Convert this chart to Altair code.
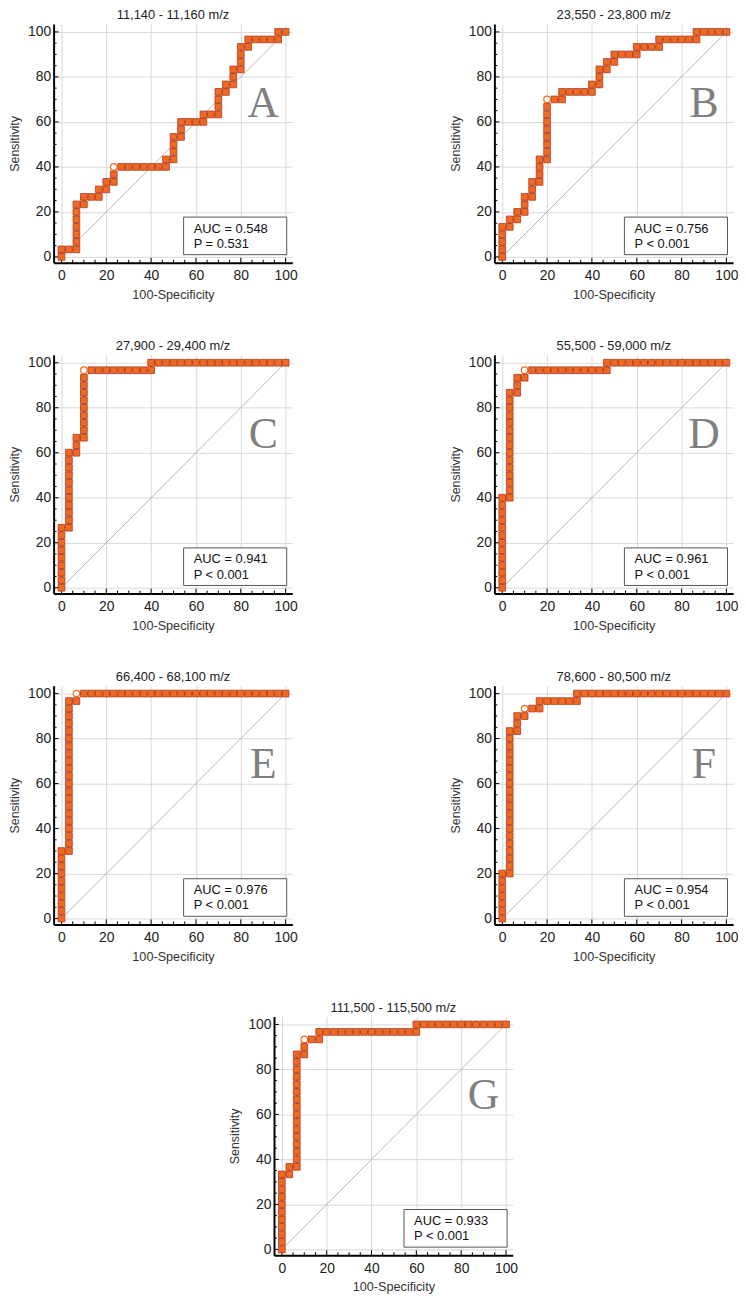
import altair as alt
import pandas as pd

# ---------------- data ----------------
N_NEG = 30   # negatives -> step of 100-Specificity
N_POS = 30   # positives -> step of Sensitivity

TITLES = ["11,140 - 11,160 m/z", "23,550 - 23,800 m/z", "27,900 - 29,400 m/z",
          "55,500 - 59,000 m/z", "66,400 - 68,100 m/z", "78,600 - 80,500 m/z",
          "111,500 - 115,500 m/z"]
LETTERS = ["A", "B", "C", "D", "E", "F", "G"]
AUC_TXT = ["AUC = 0.548", "AUC = 0.756", "AUC = 0.941", "AUC = 0.961",
           "AUC = 0.976", "AUC = 0.954", "AUC = 0.933"]
P_TXT = ["P = 0.531", "P < 0.001", "P < 0.001", "P < 0.001",
         "P < 0.001", "P < 0.001", "P < 0.001"]
OPT_IDX = [19, 27, 32, 32, 32, 31, 31]   # optimal criterion point (open marker)

# false-positive counts (x) and true-positive counts (y) of each ROC point
A_FP = [0, 0, 1, 2, 2, 2, 2, 2, 2, 2, 3, 3, 4, 5, 5, 6, 6, 7, 7, 7, 8, 9, 10, 11, 12, 13, 14, 14, 15, 15,
        15, 15, 16, 16, 16, 17, 18, 19, 19, 20, 21, 21, 21, 21, 22, 22, 23, 23, 23, 24, 24, 24, 24, 25, 25,
        26, 27, 28, 29, 29, 30]
A_TP = [0, 1, 1, 1, 2, 3, 4, 5, 6, 7, 7, 8, 8, 8, 9, 9, 10, 10, 11, 12, 12, 12, 12, 12, 12, 12, 12, 13, 13, 14,
        15, 16, 16, 17, 18, 18, 18, 18, 19, 19, 19, 20, 21, 22, 22, 23, 23, 24, 25, 25, 26, 27, 28, 28, 29,
        29, 29, 29, 29, 30, 30]

B_FP = [0, 0, 0, 0, 0, 1, 1, 2, 2, 3, 3, 3, 4, 4, 4, 5, 5, 5, 5, 6, 6, 6, 6, 6, 6, 6, 6, 6, 7, 8,
        8, 9, 10, 11, 12, 12, 13, 13, 13, 14, 14, 15, 15, 16, 17, 18, 18, 19, 20, 21, 21, 22, 23, 24, 25,
        26, 26, 27, 28, 29, 30]
B_TP = [0, 1, 2, 3, 4, 4, 5, 5, 6, 6, 7, 8, 8, 9, 10, 10, 11, 12, 13, 13, 14, 15, 16, 17, 18, 19, 20, 21, 21, 21,
        22, 22, 22, 22, 22, 23, 23, 24, 25, 25, 26, 26, 27, 27, 27, 27, 28, 28, 28, 28, 29, 29, 29, 29, 29,
        29, 30, 30, 30, 30, 30]

C_FP = [0, 0, 0, 0, 0, 0, 0, 0, 0,
        1, 1, 1, 1, 1, 1, 1, 1, 1, 1, 1,
        2, 2, 2,
        3, 3, 3, 3, 3, 3, 3, 3, 3, 3,
        4, 5, 6, 7, 8, 9, 10, 11, 12,
        12,
        13, 14, 15, 16, 17, 18, 19, 20, 21, 22, 23, 24, 25, 26, 27, 28, 29, 30]
C_TP = [0, 1, 2, 3, 4, 5, 6, 7, 8,
        8, 9, 10, 11, 12, 13, 14, 15, 16, 17, 18,
        18, 19, 20,
        20, 21, 22, 23, 24, 25, 26, 27, 28, 29,
        29, 29, 29, 29, 29, 29, 29, 29, 29,
        30,
        30, 30, 30, 30, 30, 30, 30, 30, 30, 30, 30, 30, 30, 30, 30, 30, 30, 30]

D_FP = [0, 0, 0, 0, 0, 0, 0, 0, 0, 0, 0, 0, 0,
        1, 1, 1, 1, 1, 1, 1, 1, 1, 1, 1, 1, 1, 1, 1,
        2, 2, 2,
        3, 3,
        4, 5, 6, 7, 8, 9, 10, 11, 12, 13, 14,
        14,
        15, 16, 17, 18, 19, 20, 21, 22, 23, 24, 25, 26, 27, 28, 29, 30]
D_TP = [0, 1, 2, 3, 4, 5, 6, 7, 8, 9, 10, 11, 12,
        12, 13, 14, 15, 16, 17, 18, 19, 20, 21, 22, 23, 24, 25, 26,
        26, 27, 28,
        28, 29,
        29, 29, 29, 29, 29, 29, 29, 29, 29, 29, 29,
        30,
        30, 30, 30, 30, 30, 30, 30, 30, 30, 30, 30, 30, 30, 30, 30, 30]

E_FP = [0, 0, 0, 0, 0, 0, 0, 0, 0, 0,
        1, 1, 1, 1, 1, 1, 1, 1, 1, 1, 1, 1, 1, 1, 1, 1, 1, 1, 1, 1, 1,
        2, 2,
        3, 4, 5, 6, 7, 8, 9, 10, 11, 12, 13, 14, 15, 16, 17, 18, 19, 20, 21, 22, 23, 24, 25, 26, 27, 28, 29, 30]
E_TP = [0, 1, 2, 3, 4, 5, 6, 7, 8, 9,
        9, 10, 11, 12, 13, 14, 15, 16, 17, 18, 19, 20, 21, 22, 23, 24, 25, 26, 27, 28, 29,
        29, 30,
        30, 30, 30, 30, 30, 30, 30, 30, 30, 30, 30, 30, 30, 30, 30, 30, 30, 30, 30, 30, 30, 30, 30, 30, 30, 30, 30, 30]

F_FP = [0, 0, 0, 0, 0, 0, 0,
        1, 1, 1, 1, 1, 1, 1, 1, 1, 1, 1, 1, 1, 1, 1, 1, 1, 1, 1, 1,
        2, 2, 2,
        3, 3,
        4,
        5, 5,
        6, 7, 8, 9, 10,
        10,
        11, 12, 13, 14, 15, 16, 17, 18, 19, 20, 21, 22, 23, 24, 25, 26, 27, 28, 29, 30]
F_TP = [0, 1, 2, 3, 4, 5, 6,
        6, 7, 8, 9, 10, 11, 12, 13, 14, 15, 16, 17, 18, 19, 20, 21, 22, 23, 24, 25,
        25, 26, 27,
        27, 28,
        28,
        28, 29,
        29, 29, 29, 29, 29,
        30,
        30, 30, 30, 30, 30, 30, 30, 30, 30, 30, 30, 30, 30, 30, 30, 30, 30, 30, 30, 30]

G_FP = [0, 0, 0, 0, 0, 0, 0, 0, 0, 0, 0,
        1, 1,
        2, 2, 2, 2, 2, 2, 2, 2, 2, 2, 2, 2, 2, 2, 2, 2,
        3, 3, 3,
        4,
        5, 5,
        6, 7, 8, 9, 10, 11, 12, 13, 14, 15, 16, 17, 18,
        18,
        19, 20, 21, 22, 23, 24, 25, 26, 27, 28, 29, 30]
G_TP = [0, 1, 2, 3, 4, 5, 6, 7, 8, 9, 10,
        10, 11,
        11, 12, 13, 14, 15, 16, 17, 18, 19, 20, 21, 22, 23, 24, 25, 26,
        26, 27, 28,
        28,
        28, 29,
        29, 29, 29, 29, 29, 29, 29, 29, 29, 29, 29, 29, 29,
        30,
        30, 30, 30, 30, 30, 30, 30, 30, 30, 30, 30, 30]

CURVES = [(A_FP, A_TP), (B_FP, B_TP), (C_FP, C_TP), (D_FP, D_TP),
          (E_FP, E_TP), (F_FP, F_TP), (G_FP, G_TP)]

MAJOR = [0, 20, 40, 60, 80, 100]
MINOR = [5, 10, 15, 25, 30, 35, 45, 50, 55, 65, 70, 75, 85, 90, 95]

# ---------------- styling ----------------
FONT = "Liberation Sans"
SERIF = "Liberation Serif"
W = 241
H = 241
ORANGE = "#ee6a24"
EDGE = "#b0381c"
LINE = "#7a2a24"
DIAG = "#bda8ac"
GRID = "#d9d9d9"

XS = alt.Scale(domain=[-3.5, 103], nice=False, zero=False)
YS = alt.Scale(domain=[-2.6, 103.5], nice=False, zero=False)
XAX = alt.Axis(values=MAJOR, title="100-Specificity", grid=True, gridColor=GRID, ticks=False,
               domainColor="black", domainWidth=2, labelFont=FONT, labelFontSize=14, labelColor="#222",
               labelPadding=6, labelFlush=False, titleFont=FONT, titleFontSize=12.8,
               titleFontWeight="normal", titleColor="#333", titlePadding=6)
YAX = alt.Axis(values=MAJOR, title="Sensitivity", grid=True, gridColor=GRID, ticks=False,
               domainColor="black", domainWidth=2, labelFont=FONT, labelFontSize=14, labelColor="#222",
               labelPadding=3, labelFlush=False, titleFont=FONT, titleFontSize=12.5,
               titleFontWeight="normal", titleColor="#333", titlePadding=6)


def X(f="x"):
    return alt.X(f"{f}:Q", scale=XS, axis=XAX)


def Y(f="y"):
    return alt.Y(f"{f}:Q", scale=YS, axis=YAX)


def panel(i):
    fp, tp = CURVES[i]
    df = pd.DataFrame({
        "x": [v * 100.0 / N_NEG for v in fp],
        "y": [v * 100.0 / N_POS for v in tp],
        "order": list(range(len(fp))),
    })
    opt = OPT_IDX[i]
    base = alt.Chart(df)

    diag = alt.Chart(pd.DataFrame({"x": [0, 100], "y": [0, 100]})).mark_line(
        color=DIAG, strokeWidth=0.9).encode(x=X(), y=Y())

    xmaj = alt.Chart(pd.DataFrame({"x": MAJOR})).mark_rule(color="black", strokeWidth=1).encode(
        x=X(), y=alt.value(H), y2=alt.value(H - 5))
    xmin = alt.Chart(pd.DataFrame({"x": MINOR})).mark_rule(color="black", strokeWidth=1).encode(
        x=X(), y=alt.value(H), y2=alt.value(H - 3))
    ymaj = alt.Chart(pd.DataFrame({"y": MAJOR})).mark_rule(color="black", strokeWidth=1).encode(
        y=Y(), x=alt.value(0), x2=alt.value(5))
    ymin = alt.Chart(pd.DataFrame({"y": MINOR})).mark_rule(color="black", strokeWidth=1).encode(
        y=Y(), x=alt.value(0), x2=alt.value(3))

    line = base.mark_line(color=LINE, strokeWidth=1).encode(x=X(), y=Y(), order="order:Q")
    pts = base.transform_filter(alt.datum.order != opt).mark_square(
        size=46, fill=ORANGE, stroke=EDGE, strokeWidth=0.8, opacity=1).encode(x=X(), y=Y())
    optp = base.transform_filter(alt.datum.order == opt).mark_point(
        shape="circle", size=44, fill="white", stroke=ORANGE, strokeWidth=1.2, opacity=1).encode(x=X(), y=Y())

    box = alt.Chart(pd.DataFrame({"x": [54.5], "x2": [100.5], "y": [1.0], "y2": [17.7]})).mark_rect(
        fill="white", stroke="#555", strokeWidth=1).encode(x=X(), x2="x2:Q", y=Y(), y2="y2:Q")
    txt = alt.Chart(pd.DataFrame({"x": [59, 59], "y": [12.6, 5.8],
                                  "t": [AUC_TXT[i], P_TXT[i]]})).mark_text(
        align="left", baseline="middle", font=FONT, fontSize=13, color="#111").encode(
        x=X(), y=Y(), text="t:N")
    letter = alt.Chart(pd.DataFrame({"x": [90], "y": [68], "t": [LETTERS[i]]})).mark_text(
        align="center", baseline="middle", font=SERIF, fontSize=44, color="#808080").encode(
        x=X(), y=Y(), text="t:N")

    return alt.layer(diag, xmaj, xmin, ymaj, ymin, line, pts, optp, box, txt, letter).properties(
        width=W, height=H,
        title=alt.TitleParams(text=TITLES[i], font=FONT, fontSize=13, fontWeight="normal",
                              color="#222", offset=2, anchor="middle", frame="group"))


row1 = alt.hconcat(panel(0), panel(1), spacing=204, bounds="flush")
row2 = alt.hconcat(panel(2), panel(3), spacing=204, bounds="flush")
row3 = alt.hconcat(panel(4), panel(5), spacing=204, bounds="flush")
row4 = panel(6)

chart = alt.vconcat(row1, row2, row3, row4, spacing=39, center=True).properties(
    padding={"left": 0, "top": -5, "right": 0, "bottom": 0}
).configure_view(stroke=None)

chart.save("out.html", embed_options={"renderer": "svg", "actions": False})
